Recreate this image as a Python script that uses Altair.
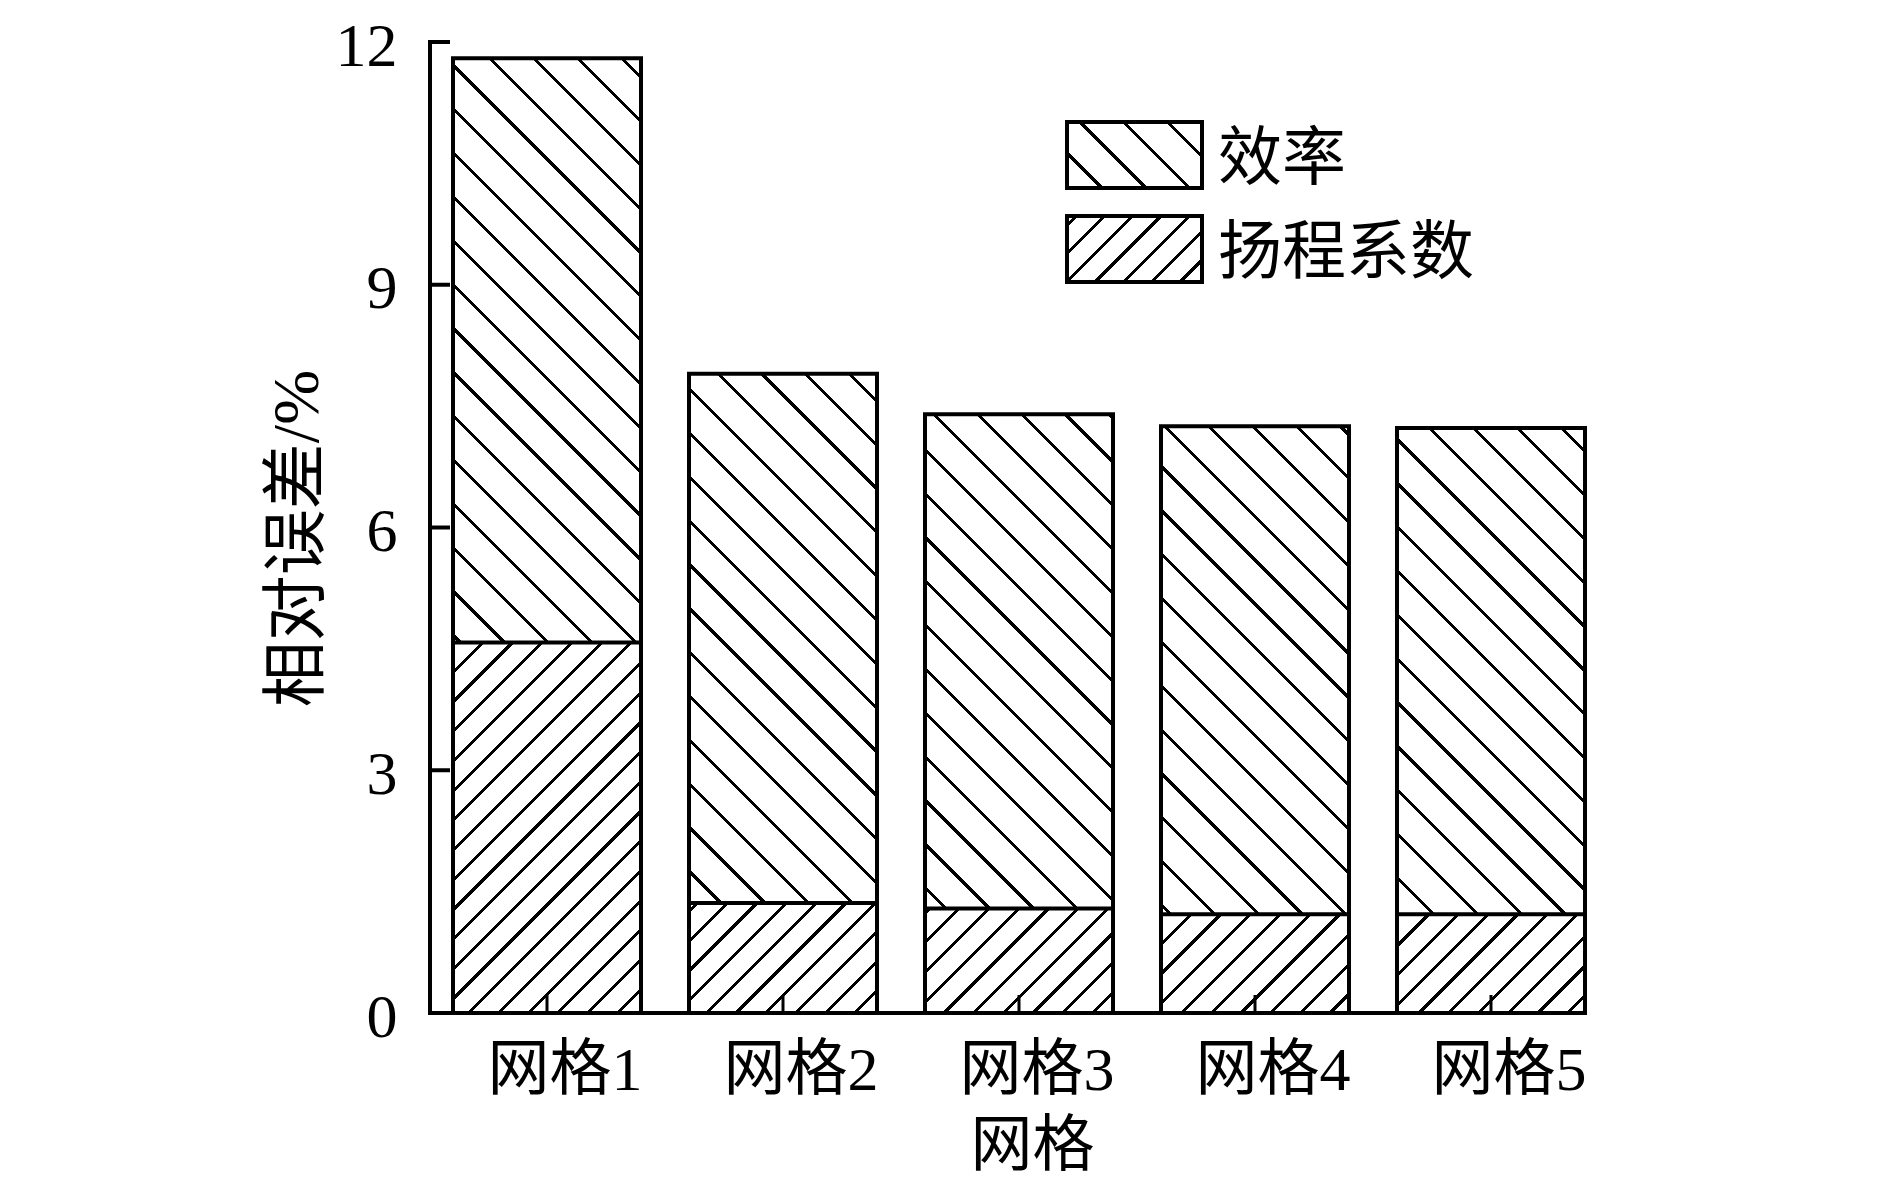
import math
import altair as alt
import pandas as pd

# ---- data ----
grids = ["网格1", "网格2", "网格3", "网格4", "网格5"]
eff = [11.8, 7.9, 7.4, 7.25, 7.23]          # 效率
head = [4.58, 1.36, 1.29, 1.22, 1.22]       # 扬程系数
series = ["效率", "扬程系数"]
y_ticks = [0, 3, 6, 9, 12]
y_title = "相对误差/%"
x_title = "网格"

# ---- layout / style ----
FONT = "Liberation Serif, Noto Sans CJK SC"
STEP = 236.0
BAR_W = 188.0
P_IN = (STEP - BAR_W) / STEP
P_OUT = 23.0 / STEP
W = int(round(STEP * (len(grids) - P_IN + 2 * P_OUT)))
H = 971
TOP = 34
YMAX = 12
X_END = W - P_OUT * STEP
SP_EFF = 31.0   # perpendicular spacing of "\" hatch
SP_HEAD = 21.0  # perpendicular spacing of "/" hatch
LW = 3.0


def hatch(w, h, kind, spacing, lw, x0, y0):
    """Linear gradient with hard stops giving 45deg hatching inside a w x h box."""
    k = (w + h) / (w * w + h * h)
    r2 = math.sqrt(2.0)
    if kind == "back":  # "\" lines, gradient from bottom-left to top-right
        x1, y1, x2, y2 = 0.0, 1.0, k * w, 1.0 - k * h
        s0 = (x0 - (y0 + h)) / r2
    else:               # "/" lines, gradient from top-left to bottom-right
        x1, y1, x2, y2 = 0.0, 0.0, k * w, k * h
        s0 = (x0 + y0) / r2
    D = (w + h) / r2
    phase = (-s0) % spacing
    stops = [{"offset": 0.0, "color": "white"}]
    p = phase - spacing
    while p - lw / 2 < D:
        a = (p - lw / 2) / D
        b = (p + lw / 2) / D
        if b > 0:
            a = max(0.0, a)
            b = min(1.0, b)
            stops += [
                {"offset": a, "color": "white"},
                {"offset": a, "color": "black"},
                {"offset": b, "color": "black"},
                {"offset": b, "color": "white"},
            ]
        p += spacing
    stops.append({"offset": 1.0, "color": "white"})
    return {"gradient": "linear", "x1": x1, "y1": y1, "x2": x2, "y2": y2, "stops": stops}


df = pd.DataFrame({"grid": grids, "eff": eff, "head": head})

xscale = alt.Scale(domain=grids, paddingInner=P_IN, paddingOuter=P_OUT)
yscale = alt.Scale(domain=[0, YMAX], nice=False, zero=True)

xaxis = alt.Axis(
    title=x_title, domain=False, ticks=False, tickSize=0, grid=False,
    labelAngle=0, labelPadding=76, labelBaseline="alphabetic", labelOffset=18,
    titleX=602, titleY=152, titleBaseline="alphabetic",
)
yaxis = alt.Axis(
    title=y_title, values=y_ticks, domain=False, ticks=False, tickSize=0, grid=False,
    labelPadding=33, labelOffset=4, titlePadding=4, titleY=496, titleFontSize=66,
)


def xenc():
    return alt.X("grid:N", scale=xscale, axis=xaxis, sort=grids)


def yenc(field):
    return alt.Y(f"{field}:Q", scale=yscale, axis=yaxis)


layers = []
px_per_unit = H / YMAX
for i, g in enumerate(grids):
    x0 = P_OUT * STEP + i * STEP
    h_e = eff[i] * px_per_unit
    layers.append(
        alt.Chart(df).transform_filter(alt.datum.grid == g)
        .mark_bar(fill=hatch(BAR_W, h_e, "back", SP_EFF, LW, x0, H - h_e),
                  stroke="black", strokeWidth=4)
        .encode(x=xenc(), y=yenc("eff"))
    )
for i, g in enumerate(grids):
    x0 = P_OUT * STEP + i * STEP
    h_h = head[i] * px_per_unit
    layers.append(
        alt.Chart(df).transform_filter(alt.datum.grid == g)
        .mark_bar(fill=hatch(BAR_W, h_h, "fwd", SP_HEAD, LW, x0, H - h_h),
                  stroke="black", strokeWidth=4)
        .encode(x=xenc(), y=yenc("head"))
    )

one = pd.DataFrame({"k": [0]})
# axis lines
layers.append(
    alt.Chart(one).mark_rule(color="black", strokeWidth=4, strokeCap="square")
    .encode(x=alt.value(0), x2=alt.value(X_END), y=alt.value(H))
)
layers.append(
    alt.Chart(one).mark_rule(color="black", strokeWidth=4, strokeCap="square")
    .encode(x=alt.value(0), y=alt.value(0), y2=alt.value(H))
)
# inward ticks
layers.append(
    alt.Chart(pd.DataFrame({"t": y_ticks})).mark_rule(color="black", strokeWidth=4)
    .encode(y=yenc("t"), x=alt.value(0), x2=alt.value(20))
)
layers.append(
    alt.Chart(df).mark_rule(color="black", strokeWidth=3)
    .encode(x=xenc(), y=alt.value(H), y2=alt.value(H - 18))
)

# legend (drawn inside the plot)
LX0, LX1 = 637, 772
boxes = [(80, 146, "back", 31.0), (174, 240, "fwd", 20.0)]
for (ya, yb, kind, sp), name in zip(boxes, series):
    d = pd.DataFrame({"s": [name]})
    layers.append(
        alt.Chart(d).mark_rect(
            fill=hatch(LX1 - LX0, yb - ya, kind, sp, LW, LX0, ya),
            stroke="black", strokeWidth=4)
        .encode(x=alt.value(LX0), x2=alt.value(LX1), y=alt.value(ya), y2=alt.value(yb))
    )
    layers.append(
        alt.Chart(d).mark_text(align="left", baseline="middle", font=FONT,
                               fontSize=64, color="black")
        .encode(x=alt.value(788), y=alt.value((ya + yb) / 2 + 5), text="s:N")
    )

chart = (
    alt.layer(*layers)
    .properties(
        width=W, height=H,
        padding={"left": 422, "top": TOP, "right": 200, "bottom": 170},
        autosize=alt.AutoSizeParams(type="none"),
    )
    .configure_view(stroke=None)
    .configure_axis(
        labelFont=FONT, titleFont=FONT, labelFontSize=62, titleFontSize=62,
        labelColor="black", titleColor="black", titleFontWeight="normal",
    )
)

chart.save("out.html", embed_options={"renderer": "svg", "actions": False})
